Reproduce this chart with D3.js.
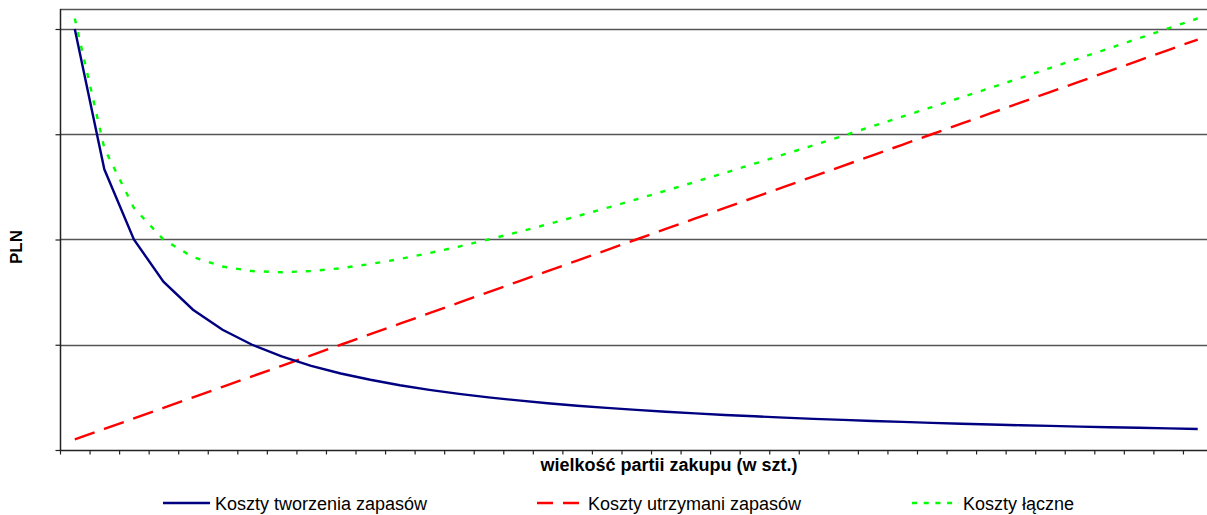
<!DOCTYPE html>
<html><head><meta charset="utf-8">
<script src="https://cdn.jsdelivr.net/npm/d3@7"></script>
<style>html,body{margin:0;padding:0;background:#fff;overflow:hidden}svg{display:block}text{font-family:"Liberation Sans",Arial,sans-serif}</style>
</head><body>
<svg id="c" width="1207" height="515"></svg>
<script>
// Categories (batch sizes, unlabeled in the chart)
const categories = [1,2,3,4,5,6,7,8,9,10,11,12,13,14,15,16,17,18,19,20,21,22,23,24,25,26,27,28,29,30,31,32,33,34,35,36,37,38,39];
// Ordering / setup costs
const kosztyTworzenia = [4.000,2.667,2.000,1.600,1.333,1.143,1.000,0.889,0.800,0.727,0.667,0.615,0.571,0.533,0.500,0.471,0.444,0.421,0.400,0.381,0.364,0.348,0.333,0.320,0.308,0.296,0.286,0.276,0.267,0.258,0.250,0.242,0.235,0.229,0.222,0.216,0.211,0.205,0.200];
// Holding costs
const kosztyUtrzymania = [0.1,0.2,0.3,0.4,0.5,0.6,0.7,0.8,0.9,1.0,1.1,1.2,1.3,1.4,1.5,1.6,1.7,1.8,1.9,2.0,2.1,2.2,2.3,2.4,2.5,2.6,2.7,2.8,2.9,3.0,3.1,3.2,3.3,3.4,3.5,3.6,3.7,3.8,3.9];
// Total costs
const kosztyLaczne = [4.100,2.867,2.300,2.000,1.833,1.743,1.700,1.689,1.700,1.727,1.767,1.815,1.871,1.933,2.000,2.071,2.144,2.221,2.300,2.381,2.464,2.548,2.633,2.720,2.808,2.896,2.986,3.076,3.167,3.258,3.350,3.442,3.535,3.629,3.722,3.816,3.911,4.005,4.100];
const yTicks = [0,1,2,3,4];
const yMax = 4.19;
const seriesNames = ["Koszty tworzenia zapasów","Koszty utrzymani zapasów","Koszty łączne"];
const xTitle = "wielkość partii zakupu (w szt.)";
const yTitle = "PLN";

const svg = d3.select("#c");
const L = 60, R = 1212.5, T = 9, B = 450;
const x = d3.scaleBand().domain(categories).range([L, R]).padding(0);
const y = d3.scaleLinear().domain([0, yMax]).range([B, T]);

// gridlines
svg.append("g").selectAll("line").data(yTicks.filter(d => d > 0)).join("line")
  .attr("x1", L).attr("x2", R).attr("y1", d => Math.round(y(d)) + 0.5).attr("y2", d => Math.round(y(d)) + 0.5)
  .attr("stroke", "#555").attr("stroke-width", 1.3);
// top border
svg.append("line").attr("x1", L).attr("x2", R).attr("y1", T + 0.5).attr("y2", T + 0.5)
  .attr("stroke", "#555").attr("stroke-width", 1.3);

// y axis
const yAxis = svg.append("g").attr("transform", `translate(${L + 0.5},0)`)
  .call(d3.axisLeft(y).tickValues(yTicks).tickSize(5).tickFormat(""));
yAxis.select(".domain").attr("d", `M0,${T}V${B}`).attr("stroke", "#222").attr("stroke-width", 1.5);
yAxis.selectAll(".tick line").attr("stroke", "#222").attr("stroke-width", 1.2);

// x axis with ticks between categories
const xb = d3.scaleLinear().domain([0, categories.length]).range([L, R]);
const xAxis = svg.append("g").attr("transform", `translate(0,${B + 0.5})`)
  .call(d3.axisBottom(xb).tickValues(d3.range(categories.length + 1)).tickSize(4).tickFormat(""));
xAxis.select(".domain").attr("d", `M${L},0H${R}`).attr("stroke", "#222").attr("stroke-width", 1.5);
xAxis.selectAll(".tick line").attr("stroke", "#222").attr("stroke-width", 1.2);

const cx = c => x(c) + x.bandwidth() / 2;
const line = d3.line().x((d, i) => cx(categories[i])).y(d => y(d));

svg.append("path").datum(kosztyUtrzymania).attr("d", line).attr("fill", "none")
  .attr("stroke", "#ff0000").attr("stroke-width", 2.4).attr("stroke-dasharray", "21,10");
svg.append("path").datum(kosztyLaczne).attr("d", line).attr("fill", "none")
  .attr("stroke", "#00ff00").attr("stroke-width", 2.4).attr("stroke-dasharray", "5,9");
svg.append("path").datum(kosztyTworzenia).attr("d", line).attr("fill", "none")
  .attr("stroke", "#000080").attr("stroke-width", 2.4);

// axis titles
svg.append("text").attr("x", 669).attr("y", 471).attr("text-anchor", "middle")
  .attr("font-weight", "bold").attr("font-size", 18).text(xTitle);
svg.append("text").attr("transform", "translate(22,247) rotate(-90)").attr("text-anchor", "middle")
  .attr("font-weight", "bold").attr("font-size", 17).text(yTitle);

// legend
const leg = [
  {name: seriesNames[0], color: "#000080", dash: null, x1: 163, x2: 210, tx: 215},
  {name: seriesNames[1], color: "#ff0000", dash: "16,10", x1: 537, x2: 580, tx: 588},
  {name: seriesNames[2], color: "#00ff00", dash: "5,6.7", x1: 912, x2: 959, tx: 963}
];
const lg = svg.append("g");
leg.forEach(d => {
  lg.append("line").attr("x1", d.x1).attr("x2", d.x2).attr("y1", 503).attr("y2", 503)
    .attr("stroke", d.color).attr("stroke-width", 2.4).attr("stroke-dasharray", d.dash);
  lg.append("text").attr("x", d.tx).attr("y", 509.5).attr("font-size", 18).attr("fill", "#000").text(d.name);
});
</script>
</body></html>
